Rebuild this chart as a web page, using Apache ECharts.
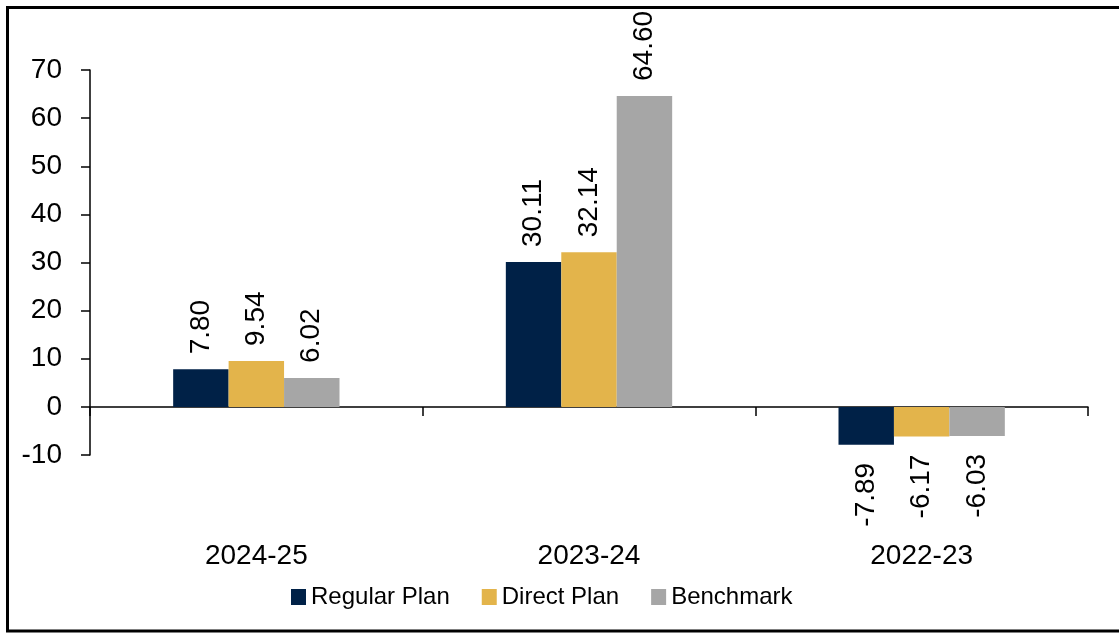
<!DOCTYPE html>
<html>
<head>
<meta charset="utf-8">
<script src="https://cdn.jsdelivr.net/npm/echarts@6/dist/echarts.min.js"></script>
<style>
html,body{margin:0;padding:0;background:#fff;}
#c{width:1119px;height:634px;}
</style>
</head>
<body>
<div id="c"></div>
<script>
const categories = ['2024-25', '2023-24', '2022-23'];
const regularPlan = [7.80, 30.11, -7.89];
const directPlan = [9.54, 32.14, -6.17];
const benchmark = [6.02, 64.60, -6.03];
const seriesNames = ['Regular Plan', 'Direct Plan', 'Benchmark'];
const yTicks = { min: -10, max: 70, interval: 10 };

const FONT = '"Liberation Sans", Arial, sans-serif';
const colors = ['#002147', '#E3B44B', '#A6A6A6'];

function labelData(vals) {
  return vals.map(v => {
    if (v >= 0) {
      return { value: v, label: { position: 'top', align: 'left', verticalAlign: 'middle', distance: 15 } };
    }
    return { value: v, label: { position: 'bottom', align: 'right', verticalAlign: 'middle', distance: 18 } };
  });
}

const chart = echarts.init(document.getElementById('c'), null, { renderer: 'canvas' });
const mk = (name, vals, i) => ({
  name: name,
  type: 'bar',
  data: labelData(vals),
  itemStyle: { color: colors[i] },
  barGap: '0%',
  barCategoryGap: '50%',
  label: {
    show: true,
    rotate: 90,
    color: '#000',
    fontFamily: FONT,
    fontSize: 28,
    formatter: p => p.value.toFixed(2)
  }
});

chart.setOption({
  animation: false,
  backgroundColor: '#fff',
  textStyle: { fontFamily: FONT },
  grid: { left: 90, right: 31, top: 70, bottom: 179, containLabel: false },
  legend: {
    data: seriesNames,
    left: 286,
    top: 580,
    itemWidth: 15,
    itemHeight: 16,
    itemGap: 32,
    icon: 'rect',
    textStyle: { fontFamily: FONT, fontSize: 24, color: '#000' }
  },
  xAxis: {
    type: 'category',
    data: categories,
    axisLine: { onZero: true, lineStyle: { color: '#000', width: 1.5 } },
    axisTick: { show: true, alignWithLabel: false, inside: false, length: 9, lineStyle: { color: '#000', width: 1.5 } },
    axisLabel: { color: '#000', fontFamily: FONT, fontSize: 28, margin: 87 },
    splitLine: { show: false }
  },
  yAxis: {
    type: 'value',
    min: yTicks.min,
    max: yTicks.max,
    interval: yTicks.interval,
    axisLine: { show: true, lineStyle: { color: '#000', width: 1.5 } },
    axisTick: { show: true, inside: false, length: 9, lineStyle: { color: '#000', width: 1.5 } },
    axisLabel: { color: '#000', fontFamily: FONT, fontSize: 28, margin: 28 },
    splitLine: { show: false }
  },
  graphic: [{
    type: 'rect',
    shape: { x: 7.5, y: 7.5, width: 1200, height: 623.5 },
    style: { fill: 'none', stroke: '#000', lineWidth: 3 },
    silent: true,
    z: 100
  }],
  series: [
    mk(seriesNames[0], regularPlan, 0),
    mk(seriesNames[1], directPlan, 1),
    mk(seriesNames[2], benchmark, 2)
  ]
});
</script>
</body>
</html>
